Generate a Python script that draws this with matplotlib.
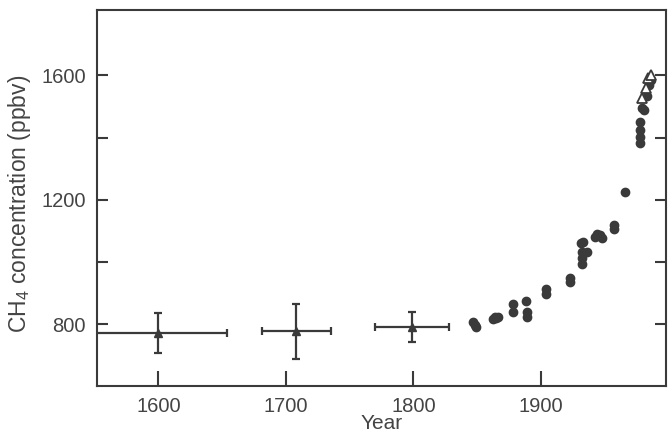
import matplotlib
matplotlib.use("Agg")
from matplotlib import pyplot as plt

plt.rcParams['font.family'] = ['Liberation Sans', 'DejaVu Sans']
plt.rcParams['mathtext.fontset'] = 'custom'
plt.rcParams['mathtext.rm'] = 'Liberation Sans'

# ice core means with error bars (year, ppbv)
ice_year = [1600, 1708, 1799]
ice_ch4 = [772, 778, 792]
ice_xerr = [54, 27, 29]
ice_yerr = [64, 88, 48]

# individual ice core points
core_year = [1847, 1848, 1849, 1862, 1864, 1865, 1866, 1878, 1878, 1888, 1889, 1889,
             1904, 1904, 1923, 1923, 1931, 1933, 1936, 1932, 1932, 1932,
             1942, 1944, 1946, 1948, 1957, 1957, 1966,
             1978, 1978, 1978, 1978, 1979, 1981, 1983, 1985, 1986]
core_ch4 = [806, 798, 790, 816, 822, 819, 825, 864, 839, 874, 839, 822,
            912, 896, 948, 935, 1060, 1066, 1031, 1032, 1012, 993,
            1082, 1090, 1086, 1078, 1118, 1106, 1224,
            1449, 1423, 1401, 1381, 1494, 1487, 1535, 1568, 1585]

# atmospheric measurements (open triangles)
air_year = [1979, 1982, 1984, 1986]
air_ch4 = [1528, 1560, 1590, 1600]

col = '#3a3a3a'
txt = '#444444'
fig, ax = plt.subplots(figsize=(6.7, 4.33), dpi=100)
fig.subplots_adjust(left=0.145, right=0.994, top=0.977, bottom=0.108)

ax.errorbar(ice_year, ice_ch4, xerr=ice_xerr, yerr=ice_yerr, fmt='^', color=col,
            ms=6, elinewidth=1.6, capsize=3, capthick=1.6)
ax.plot(core_year, core_ch4, 'o', color=col, ms=6)
ax.plot(air_year, air_ch4, '^', mfc='white', mec=col, mew=1.3, ms=7)

ax.set_xlim(1552, 1998)
ax.set_ylim(601, 1810)
ax.set_xticks([1600, 1700, 1800, 1900])
ax.set_yticks([800, 1200, 1600])
ax.set_yticks([1000, 1400], minor=True)

for s in ax.spines.values():
    s.set_color(col)
    s.set_linewidth(1.5)

ax.tick_params(axis='y', which='both', direction='in', right=True, length=8,
               width=1.5, color=col, labelsize=14.5, labelcolor=txt, pad=8)
ax.tick_params(axis='x', direction='in', length=11, width=1.5, color=col,
               labelsize=14.5, labelcolor=txt, pad=8)

ax.set_xlabel('Year', fontsize=15, color=txt, labelpad=-2)
ax.set_ylabel(r'CH$_4$ concentration (ppbv)', fontsize=16.5, color=txt)
ax.yaxis.set_label_coords(-0.113, 0.485)

plt.savefig('out.png')
